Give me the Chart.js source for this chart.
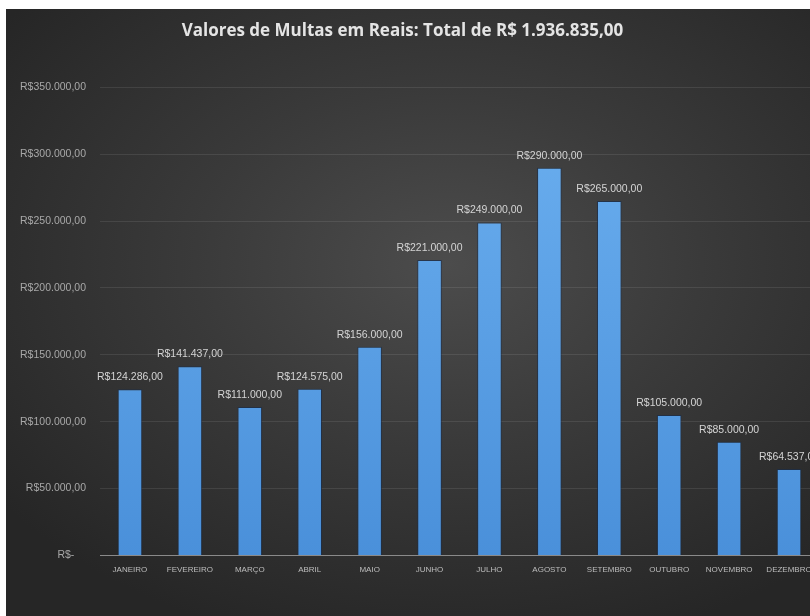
<!DOCTYPE html>
<html>
<head>
<meta charset="utf-8">
<script src="https://cdn.jsdelivr.net/npm/chart.js@4.4.0/dist/chart.umd.min.js"></script>
<style>
    html, body { margin: 0; padding: 0; background: #ffffff; overflow: hidden; }
    #frame {
        position: absolute; left: 6px; top: 9px; width: 804px; height: 607px;
        overflow: hidden;
        background: radial-gradient(ellipse 70% 65% at 55% 42%, #4c4c4c 0%, #3a3a3a 45%, #262626 100%);
    }
    #holder { position: absolute; left: -20px; top: 0; width: 850px; height: 607px; }
</style>
</head>
<body>
<div id="frame"><div id="holder"><canvas id="multasChart"></canvas></div></div>
<script>
// dados do gráfico
const meses = ['JANEIRO', 'FEVEREIRO', 'MARÇO', 'ABRIL', 'MAIO', 'JUNHO',
    'JULHO', 'AGOSTO', 'SETEMBRO', 'OUTUBRO', 'NOVEMBRO', 'DEZEMBRO'];
const valores = [124286, 141437, 111000, 124575, 156000, 221000,
    249000, 290000, 265000, 105000, 85000, 64537];
const tituloGrafico = 'Valores de Multas em Reais: Total de R$ 1.936.835,00';

// formata número no padrão brasileiro (1.234,00)
function formatarReal(v) {
    const inteiro = Math.round(v).toString().replace(/\B(?=(\d{3})+(?!\d))/g, '.');
    return 'R$' + inteiro + ',00';
}

// rótulos acima das barras
const rotulosPlugin = {
    id: 'rotulos',
    afterDatasetsDraw(chart) {
        const ctx = chart.ctx;
        const meta = chart.getDatasetMeta(0);
        ctx.save();
        ctx.fillStyle = '#d4d4d4';
        ctx.font = '10.5px "Liberation Sans", Arial, sans-serif';
        ctx.textAlign = 'center';
        ctx.textBaseline = 'middle';
        meta.data.forEach((bar, i) => {
            ctx.fillText(formatarReal(valores[i]), bar.x, bar.y - 12);
        });
        ctx.restore();
    }
};

const ctx = document.getElementById('multasChart');
new Chart(ctx, {
    type: 'bar',
    data: {
        labels: meses,
        datasets: [{
            data: valores,
            backgroundColor: (c) => {
                const area = c.chart.chartArea;
                if (!area) return '#5b9fe4';
                const g = c.chart.ctx.createLinearGradient(0, area.top, 0, area.bottom);
                g.addColorStop(0, '#6cb0f0');
                g.addColorStop(1, '#4a90da');
                return g;
            },
            borderColor: 'rgba(25, 45, 75, 0.7)',
            borderWidth: 1,
            borderSkipped: 'bottom',
            barPercentage: 0.41,
            categoryPercentage: 1.0
        }]
    },
    options: {
        responsive: true,
        maintainAspectRatio: false,
        animation: false,
        layout: {
            padding: { left: 0, right: 17, top: 0, bottom: 31 }
        },
        plugins: {
            legend: { display: false },
            tooltip: { enabled: false },
            title: {
                display: true,
                text: tituloGrafico,
                color: '#e4e4e4',
                font: { family: '"Open Sans", sans-serif', size: 17, weight: 'bold' },
                padding: { top: 12, bottom: 46 }
            }
        },
        scales: {
            x: {
                grid: { display: false, drawTicks: false },
                border: { display: true, color: '#8a8a8a', width: 1 },
                ticks: {
                    color: '#bdbdbd',
                    padding: 10,
                    maxRotation: 0,
                    autoSkip: false,
                    font: { family: '"Liberation Sans", Arial, sans-serif', size: 8 }
                }
            },
            y: {
                min: 0,
                max: 350000,
                afterFit(scale) { scale.width = 114; },
                grid: { color: 'rgba(255,255,255,0.09)', drawTicks: false },
                border: { display: false },
                ticks: {
                    stepSize: 50000,
                    color: '#a8a8a8',
                    padding: 14,
                    font: { family: '"Liberation Sans", Arial, sans-serif', size: 10.5 },
                    callback: (v) => v === 0 ? 'R$-    ' : formatarReal(v)
                }
            }
        }
    },
    plugins: [rotulosPlugin]
});
</script>
</body>
</html>
